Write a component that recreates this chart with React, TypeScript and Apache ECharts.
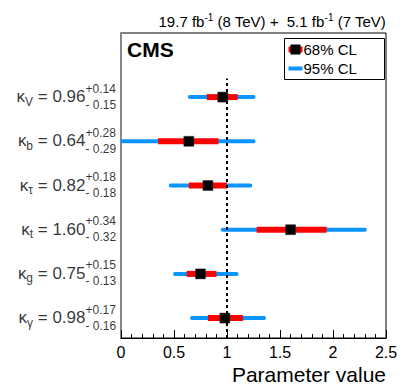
import React, { useEffect, useRef } from "react";
import * as echarts from "echarts";

const paramNames = ["V", "b", "τ", "t", "g", "γ"];
const central = [0.96, 0.64, 0.82, 1.6, 0.75, 0.98];
const errUp = [0.14, 0.28, 0.18, 0.34, 0.15, 0.17];
const errDown = [0.15, 0.29, 0.18, 0.32, 0.13, 0.16];
const lo95 = [0.65, 0.0, 0.47, 0.96, 0.51, 0.67];
const hi95 = [1.25, 1.25, 1.22, 2.3, 1.09, 1.35];
const rowY = [5.45, 4.45, 3.45, 2.45, 1.45, 0.45];
const xTicks = [0, 0.5, 1, 1.5, 2, 2.5];
const refValue = 1;

const FONT = "Liberation Sans";

export default function App() {
  const ref = useRef<HTMLDivElement>(null);
  useEffect(() => {
    if (!ref.current) return;
    const chart = echarts.init(ref.current, null, { renderer: "svg" });
    const rows = central.map((c, i) => [
      lo95[i], hi95[i], c - errDown[i], c + errUp[i], c, rowY[i],
    ]);
    const option: any = {
      animation: false,
      backgroundColor: "#fff",
      textStyle: { fontFamily: FONT },
      grid: {
        left: 121, right: 21, top: 33, bottom: 53,
        show: true, borderColor: "#000", borderWidth: 1, backgroundColor: "transparent",
      },
      xAxis: {
        type: "value", min: xTicks[0], max: xTicks[xTicks.length - 1], interval: 0.5,
        axisLine: { show: true, lineStyle: { color: "#000", width: 1 } },
        axisTick: { show: true, inside: true, length: 8, lineStyle: { color: "#000" } },
        minorTick: { show: true, splitNumber: 5, length: 4, lineStyle: { color: "#000" } },
        splitLine: { show: false },
        axisLabel: {
          fontSize: 16, color: "#000", fontFamily: FONT, margin: 6,
          formatter: (v: number) => String(v),
        },
        name: "Parameter value",
        nameLocation: "end",
        nameGap: 0,
        nameTextStyle: {
          fontSize: 21, color: "#000", fontFamily: FONT,
          align: "right", verticalAlign: "top", padding: [26, 0, 0, 0],
        },
      },
      yAxis: {
        type: "value", min: 0, max: 6.9,
        axisLine: { show: true, lineStyle: { color: "#888", width: 2 } },
        axisTick: { show: false },
        axisLabel: { show: false },
        splitLine: { show: false },
      },
      series: [
        {
          name: "95% CL",
          type: "custom",
          clip: true,
          z: 2,
          data: rows,
          renderItem: (params: any, api: any) => {
            const y = api.value(5);
            const p1 = api.coord([api.value(0), y]);
            const p2 = api.coord([api.value(1), y]);
            return {
              type: "line",
              shape: { x1: p1[0], y1: p1[1], x2: p2[0], y2: p2[1] },
              style: { stroke: "#0a94ff", lineWidth: 4, lineCap: "round" },
            };
          },
          markLine: {
            silent: true,
            symbol: "none",
            label: { show: false },
            lineStyle: { color: "#000", type: [3, 3], width: 2 },
            data: [[{ coord: [refValue, 0] }, { coord: [refValue, 5.87] }]],
          },
        },
        {
          name: "68% CL",
          type: "custom",
          clip: true,
          z: 3,
          data: rows,
          renderItem: (params: any, api: any) => {
            const y = api.value(5);
            const p1 = api.coord([api.value(2), y]);
            const p2 = api.coord([api.value(3), y]);
            const pc = api.coord([api.value(4), y]);
            const s = 10;
            return {
              type: "group",
              children: [
                {
                  type: "line",
                  shape: { x1: p1[0], y1: p1[1], x2: p2[0], y2: p2[1] },
                  style: { stroke: "#ff0000", lineWidth: 6, lineCap: "butt" },
                },
                {
                  type: "rect",
                  shape: { x: pc[0] - s / 2, y: pc[1] - s / 2, width: s, height: s },
                  style: { fill: "#000", stroke: "#333", lineWidth: 0.5 },
                },
              ],
            };
          },
        },
        {
          name: "labels",
          type: "scatter",
          symbolSize: 1,
          itemStyle: { color: "rgba(0,0,0,0)" },
          silent: true,
          data: central.map((c, i) => [0, rowY[i], i]),
          label: {
            show: true,
            position: [-35, 0],
            align: "right",
            verticalAlign: "middle",
            formatter: (p: any) => {
              const i = p.value[2];
              return `{k|κ}{s|${paramNames[i]}}{m| = ${central[i].toFixed(2)}}`;
            },
            rich: {
              k: { fontSize: 17, color: "#000", fontFamily: FONT },
              s: { fontSize: 12, color: "#000", fontFamily: FONT, padding: [10, 0, 0, 0] },
              m: { fontSize: 17, color: "#000", fontFamily: FONT },
            },
          },
        },
        {
          name: "errors",
          type: "scatter",
          symbolSize: 1,
          itemStyle: { color: "rgba(0,0,0,0)" },
          silent: true,
          data: central.map((c, i) => [0, rowY[i], i]),
          label: {
            show: true,
            position: [-35, 0],
            align: "left",
            verticalAlign: "middle",
            formatter: (p: any) => {
              const i = p.value[2];
              return `{e|+${errUp[i].toFixed(2)}}\n{e|- ${errDown[i].toFixed(2)}}`;
            },
            rich: {
              e: { fontSize: 12, color: "#000", fontFamily: FONT, lineHeight: 16 },
            },
          },
        },
      ],
      graphic: [
        {
          type: "text",
          right: 21,
          top: 12,
          style: {
            text: "19.7 fb{sup|-1} (8 TeV) +  5.1 fb{sup|-1} (7 TeV)",
            fontSize: 15,
            fill: "#000",
            fontFamily: FONT,
            rich: {
              sup: { fontSize: 10, fontFamily: FONT, fill: "#000", padding: [0, 0, 9, 0] },
            },
          },
        },
        {
          type: "text",
          left: 127,
          top: 39,
          style: { text: "CMS", fontSize: 21, fontWeight: "bold", fill: "#000", fontFamily: FONT },
        },
        {
          type: "group",
          left: 284,
          top: 38,
          children: [
            {
              type: "rect",
              shape: { x: 0, y: 0, width: 100, height: 41 },
              style: { fill: "#fff", stroke: "#000", lineWidth: 1 },
            },
            {
              type: "line",
              shape: { x1: 4, y1: 11, x2: 18, y2: 11 },
              style: { stroke: "#ff0000", lineWidth: 6 },
            },
            {
              type: "rect",
              shape: { x: 6, y: 6, width: 10, height: 10 },
              style: { fill: "#000" },
            },
            {
              type: "text",
              x: 19, y: 11,
              style: { text: "68% CL", fontSize: 15, fill: "#000", fontFamily: FONT, verticalAlign: "middle" },
            },
            {
              type: "line",
              shape: { x1: 4, y1: 30, x2: 18, y2: 30 },
              style: { stroke: "#0a94ff", lineWidth: 4 },
            },
            {
              type: "text",
              x: 19, y: 30,
              style: { text: "95% CL", fontSize: 15, fill: "#000", fontFamily: FONT, verticalAlign: "middle" },
            },
          ],
        },
      ],
    };
    chart.setOption(option);
    return () => chart.dispose();
  }, []);
  return <div ref={ref} style={{ width: 407, height: 391, margin: -8 }} />;
}
